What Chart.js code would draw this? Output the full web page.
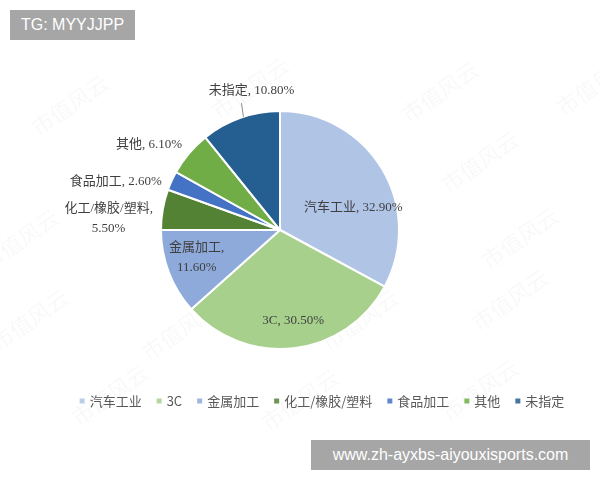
<!DOCTYPE html>
<html>
<head>
<meta charset="utf-8">
<script src="https://cdn.jsdelivr.net/npm/chart.js@4/dist/chart.umd.min.js"></script>
<style>
  html, body { margin: 0; padding: 0; background: #ffffff; }
  #wrap { position: relative; width: 600px; height: 480px; overflow: hidden; }
  canvas { position: absolute; left: 0; top: 0; }
  .tag { position: absolute; background: #a6a6a6; color: #ffffff;
         font-family: "Liberation Sans", Arial, sans-serif; font-size: 16px;
         line-height: 30px; text-align: center; white-space: nowrap; }
</style>
</head>
<body>
<div id="wrap">
  <canvas id="c" width="600" height="480"></canvas>
  <div class="tag" style="left:10px;top:10px;width:125px;height:30px;">TG: MYYJJPP</div>
  <div class="tag" style="left:311px;top:440px;width:279px;height:30px;">www.zh-ayxbs-aiyouxisports.com</div>
</div>
<script>
// ---- data ----
const categories = ["汽车工业", "3C", "金属加工", "化工/橡胶/塑料", "食品加工", "其他", "未指定"];
const shares = [32.9, 30.5, 11.6, 5.5, 2.6, 6.1, 10.8];
const sliceColors = ["#b0c4e6", "#a8d08d", "#8eaadb", "#548235", "#4472c4", "#70ad47", "#255e91"];

// ---- label layout (style, not data): offset of label centre from pie centre, in radii ----
const labelLayout = [
  { fx: 0.615, fy: -0.19, lines: 1 },
  { fx: 0.11,  fy: 0.76,  lines: 1 },
  { fx: -0.70, fy: 0.23,  lines: 2 },
  { fx: -1.44, fy: -0.10, lines: 2 },
  { fx: -1.38, fy: -0.41, lines: 1 },
  { fx: -1.10, fy: -0.716, lines: 1 },
  { fx: -0.24, fy: -1.175, lines: 1, leader: true }
];

function labelLines(i) {
  const pct = shares[i].toFixed(2) + "%";
  if (labelLayout[i].lines === 2) return [categories[i] + ",", pct];
  return [categories[i] + ", " + pct];
}

const labelPlugin = {
  id: "sliceLabels",
  afterDatasetsDraw(chart) {
    const ctx = chart.ctx;
    const meta = chart.getDatasetMeta(0);
    ctx.save();
    ctx.font = '13px "Liberation Serif", "Noto Sans CJK SC", serif';
    ctx.fillStyle = "#3f3f3f";
    ctx.textAlign = "center";
    ctx.textBaseline = "middle";
    meta.data.forEach((arc, i) => {
      const cx = arc.x, cy = arc.y, r = arc.outerRadius;
      const lay = labelLayout[i];
      const lx = cx + r * lay.fx, ly = cy + r * lay.fy;
      const lines = labelLines(i);
      const lh = 20;
      lines.forEach((t, k) => {
        ctx.fillText(t, lx, ly + (k - (lines.length - 1) / 2) * lh);
      });
      if (lay.leader) {
        const x0 = lx - 10, y0 = ly + 13;
        const x1 = x0 + 2;
        const y1 = cy - Math.sqrt(r * r - (x1 - cx) * (x1 - cx));
        ctx.strokeStyle = "#8c8c8c";
        ctx.lineWidth = 1;
        ctx.beginPath();
        ctx.moveTo(x0, y0);
        ctx.lineTo(x1, y1);
        ctx.stroke();
      }
    });
    ctx.restore();
  }
};

const legendPlugin = {
  id: "bottomLegend",
  afterDraw(chart) {
    const ctx = chart.ctx;
    ctx.save();
    ctx.font = '13px "Noto Sans CJK SC", "Liberation Sans", sans-serif';
    ctx.textBaseline = "middle";
    ctx.textAlign = "left";
    const box = 5, boxGap = 5, itemGap = 15, y = 401;
    const widths = categories.map(t => box + boxGap + ctx.measureText(t).width);
    const total = widths.reduce((a, b) => a + b, 0) + itemGap * (categories.length - 1);
    let x = 322 - total / 2;
    categories.forEach((t, i) => {
      ctx.fillStyle = sliceColors[i];
      ctx.globalAlpha = 0.85;
      ctx.fillRect(x, y - box / 2, box, box);
      ctx.globalAlpha = 1;
      ctx.fillStyle = "#595959";
      ctx.fillText(t, x + box + boxGap, y);
      x += widths[i] + itemGap;
    });
    ctx.restore();
  }
};

const watermarkPlugin = {
  id: "watermark",
  beforeDraw(chart) {
    const ctx = chart.ctx;
    const spots = [[70, 105], [250, 88], [440, 92], [595, 85], [480, 162], [20, 240],
                   [520, 238], [180, 330], [360, 320], [510, 300], [30, 320], [110, 395], [300, 400], [480, 390]];
    ctx.save();
    ctx.font = '22px "Noto Sans CJK SC", sans-serif';
    ctx.fillStyle = "rgba(0,0,0,0.028)";
    ctx.textAlign = "center";
    ctx.textBaseline = "middle";
    spots.forEach(([x, y]) => {
      ctx.save();
      ctx.translate(x, y);
      ctx.rotate(-35 * Math.PI / 180);
      ctx.fillText("市值风云", 0, 0);
      ctx.restore();
    });
    ctx.restore();
  }
};

new Chart(document.getElementById("c"), {
  type: "pie",
  data: {
    labels: categories,
    datasets: [{
      data: shares,
      backgroundColor: sliceColors,
      borderColor: "#ffffff",
      borderWidth: 2
    }]
  },
  options: {
    responsive: false,
    animation: false,
    layout: { padding: { left: 160, right: 200, top: 110, bottom: 130 } },
    plugins: {
      legend: { display: false },
      tooltip: { enabled: false }
    }
  },
  plugins: [watermarkPlugin, labelPlugin, legendPlugin]
});
</script>
</body>
</html>
